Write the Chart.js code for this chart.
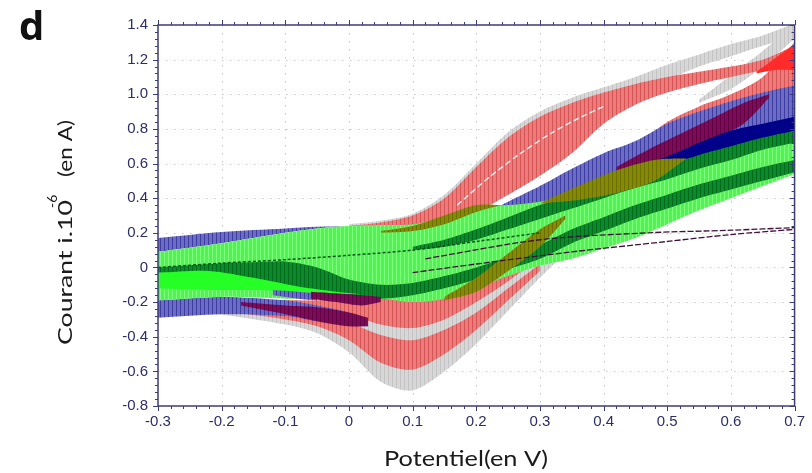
<!DOCTYPE html>
<html>
<head>
<meta charset="utf-8">
<script src="https://cdn.jsdelivr.net/npm/chart.js@4.4.1/dist/chart.umd.min.js"></script>
<style>
  html, body { margin: 0; padding: 0; background: #fff; }
</style>
</head>
<body>
<canvas id="graph" width="812" height="473"></canvas>
<script>
// axis ticks: potential (V) and current (x 1e-6 A)
var xTicks = [-0.3, -0.2, -0.1, 0, 0.1, 0.2, 0.3, 0.4, 0.5, 0.6, 0.7];
var xTickLabels = ['-0.3', '-0.2', '-0.1', '0', '0.1', '0.2', '0.3', '0.4', '0.5', '0.6', '0.7'];
var yTicks = [-0.8, -0.6, -0.4, -0.2, 0, 0.2, 0.4, 0.6, 0.8, 1.0, 1.2, 1.4];
var yTickLabels = ['-0.8', '-0.6', '-0.4', '-0.2', '0', '0.2', '0.4', '0.6', '0.8', '1.0', '1.2', '1.4'];

// forward (anodic) branch of the grey and red sweeps
var upX = [0.0, 0.05, 0.1, 0.15, 0.2, 0.25, 0.3, 0.35, 0.4, 0.45, 0.5, 0.55, 0.6, 0.65, 0.7];
var grayUpTop = [0.25, 0.27, 0.31, 0.42, 0.6, 0.78, 0.9, 0.98, 1.04, 1.1, 1.17, 1.23, 1.29, 1.34, 1.41];
var grayUpBot = [0.2, 0.2, 0.21, 0.25, 0.32, 0.42, 0.53, 0.66, 0.83, 0.98, 1.08, 1.16, 1.22, 1.28, 1.34];
var redUpTop = [0.24, 0.26, 0.3, 0.4, 0.58, 0.75, 0.87, 0.95, 1.01, 1.06, 1.1, 1.13, 1.16, 1.2, 1.28];
var redUpBot = [0.2, 0.2, 0.21, 0.25, 0.32, 0.42, 0.53, 0.66, 0.83, 0.94, 1.01, 1.06, 1.1, 1.14, 1.18];

// return (cathodic) branch of the grey and red sweeps
var grayLowX = [-0.2, -0.1, -0.05, 0, 0.05, 0.1, 0.15, 0.2, 0.25, 0.3, 0.35, 0.4, 0.45];
var grayLowTop = [-0.19, -0.19, -0.19, -0.17, -0.17, -0.18, -0.14, -0.05, 0.08, 0.24, 0.4, 0.55, 0.68];
var grayLowBot = [-0.27, -0.33, -0.38, -0.49, -0.66, -0.71, -0.6, -0.44, -0.25, -0.06, 0.12, 0.3, 0.47];
var redLow1X = [-0.2, -0.1, -0.05, 0, 0.05, 0.1, 0.15, 0.2, 0.25, 0.3, 0.35, 0.4, 0.45, 0.5, 0.55, 0.6, 0.65, 0.7];
var redLow1Top = [-0.19, -0.19, -0.19, -0.17, -0.17, -0.18, -0.14, -0.05, 0.08, 0.24, 0.4, 0.55, 0.7, 0.84, 0.93, 1.0, 1.1, 1.3];
var redLow1Bot = [-0.22, -0.24, -0.25, -0.27, -0.33, -0.35, -0.3, -0.2, -0.08, 0.06, 0.22, 0.38, 0.55, 0.72, 0.8, 0.88, 0.98, 1.05];
var redLow2X = [-0.2, -0.1, -0.05, 0, 0.05, 0.1, 0.15, 0.2, 0.25, 0.3];
var redLow2Top = [-0.23, -0.26, -0.28, -0.32, -0.39, -0.42, -0.36, -0.26, -0.12, 0.02];
var redLow2Bot = [-0.25, -0.3, -0.34, -0.42, -0.55, -0.59, -0.5, -0.36, -0.19, -0.02];
var grayRetX = [0.55, 0.6, 0.65, 0.7];
var grayRetTop = [0.97, 1.11, 1.25, 1.41];
var grayRetBot = [0.95, 1.03, 1.16, 1.32];
var redHotX = [0.64, 0.67, 0.7];
var redHotTop = [1.13, 1.21, 1.29];
var redHotBot = [1.12, 1.14, 1.14];

// blue sweep
var blueRX = [0.15, 0.2, 0.25, 0.3, 0.35, 0.4, 0.45, 0.5, 0.55, 0.6, 0.65, 0.7];
var blueRTop = [0.24, 0.29, 0.38, 0.47, 0.57, 0.66, 0.73, 0.83, 0.9, 0.96, 1.01, 1.05];
var blueRBot = [0.22, 0.22, 0.24, 0.28, 0.33, 0.4, 0.47, 0.54, 0.6, 0.66, 0.72, 0.78];
var purpleRX = [0.42, 0.47, 0.52, 0.57, 0.62, 0.66];
var purpleRTop = [0.58, 0.68, 0.77, 0.86, 0.95, 1.0];
var purpleRBot = [0.56, 0.6, 0.66, 0.74, 0.83, 0.98];
var navyX = [0.45, 0.5, 0.55, 0.6, 0.65, 0.7];
var navyTop = [0.58, 0.64, 0.72, 0.79, 0.83, 0.87];
var navyBot = [0.56, 0.58, 0.63, 0.68, 0.73, 0.79];
var blueL1X = [-0.3, -0.2, -0.1, -0.05, 0.0];
var blueL1Top = [0.17, 0.205, 0.225, 0.235, 0.24];
var blueL1Bot = [0.09, 0.14, 0.2, 0.225, 0.24];
var blueL2X = [-0.3, -0.2, -0.1, -0.05, 0.0, 0.03];
var blueL2Top = [-0.19, -0.17, -0.19, -0.22, -0.26, -0.3];
var blueL2Bot = [-0.29, -0.27, -0.28, -0.31, -0.33, -0.34];

// green sweeps
var greenX = [-0.3, -0.2, -0.1, -0.05, 0, 0.05, 0.1, 0.15, 0.2, 0.25, 0.3, 0.35, 0.4, 0.45, 0.5, 0.55, 0.6, 0.65, 0.7];
var greenTop = [0.09, 0.14, 0.2, 0.225, 0.24, 0.245, 0.25, 0.29, 0.35, 0.36, 0.38, 0.42, 0.47, 0.54, 0.6, 0.64, 0.68, 0.73, 0.79];
var greenBot = [-0.19, -0.17, -0.18, -0.18, -0.19, -0.18, -0.2, -0.18, -0.12, -0.05, 0.01, 0.05, 0.11, 0.17, 0.25, 0.33, 0.4, 0.47, 0.54];
var dg1X = [-0.3, -0.2, -0.15, -0.1, -0.05, 0.0, 0.05, 0.1, 0.15, 0.2, 0.25, 0.3, 0.35, 0.4, 0.45, 0.5, 0.55, 0.6, 0.65, 0.7];
var dg1Top = [0.0, 0.025, 0.03, 0.035, 0.0, -0.07, -0.1, -0.09, -0.05, 0.0, 0.06, 0.13, 0.22, 0.29, 0.36, 0.42, 0.48, 0.53, 0.58, 0.62];
var dg1Bot = [-0.03, -0.04, -0.07, -0.11, -0.14, -0.17, -0.18, -0.16, -0.12, -0.07, -0.01, 0.05, 0.14, 0.21, 0.28, 0.34, 0.4, 0.45, 0.5, 0.55];
var dg2X = [0.1, 0.15, 0.2, 0.25, 0.3, 0.35, 0.4, 0.45, 0.5, 0.55, 0.6, 0.65, 0.7];
var dg2Top = [0.12, 0.16, 0.22, 0.29, 0.36, 0.42, 0.48, 0.54, 0.59, 0.65, 0.7, 0.75, 0.79];
var dg2Bot = [0.1, 0.12, 0.16, 0.22, 0.28, 0.34, 0.4, 0.46, 0.51, 0.57, 0.62, 0.68, 0.72];
var lensX = [-0.3, -0.22, -0.15, -0.08, -0.02, 0.02];
var lensTop = [-0.03, -0.02, -0.06, -0.11, -0.14, -0.155];
var lensBot = [-0.12, -0.13, -0.13, -0.14, -0.15, -0.155];

// places where sweeps cross each other
var olive1X = [0.05, 0.1, 0.15, 0.2, 0.24];
var olive1Top = [0.21, 0.24, 0.3, 0.36, 0.36];
var olive1Bot = [0.2, 0.21, 0.25, 0.32, 0.36];
var olive2X = [0.15, 0.2, 0.25, 0.3, 0.34];
var olive2Top = [-0.17, -0.06, 0.08, 0.22, 0.3];
var olive2Bot = [-0.19, -0.14, -0.02, 0.12, 0.28];
var olive3X = [0.3, 0.36, 0.42, 0.48, 0.53];
var olive3Top = [0.37, 0.47, 0.56, 0.62, 0.63];
var olive3Bot = [0.37, 0.39, 0.43, 0.5, 0.63];
var purpleLX = [-0.17, -0.1, -0.05, 0.0, 0.03];
var purpleLTop = [-0.2, -0.22, -0.23, -0.26, -0.29];
var purpleLBot = [-0.22, -0.27, -0.31, -0.34, -0.34];
var blueMX = [-0.12, -0.08, -0.05];
var blueMTop = [-0.13, -0.14, -0.15];
var blueMBot = [-0.16, -0.18, -0.19];
var purpleMX = [-0.06, -0.02, 0.02, 0.05];
var purpleMTop = [-0.14, -0.15, -0.16, -0.17];
var purpleMBot = [-0.18, -0.2, -0.22, -0.2];

// thin traces
var dgLineX = [-0.3, -0.2, -0.1, 0.0, 0.1, 0.2, 0.3];
var dgLineY = [0.0, 0.025, 0.045, 0.07, 0.1, 0.15, 0.2];
var trace1X = [0.12, 0.3, 0.47, 0.6, 0.7];
var trace1Y = [0.05, 0.16, 0.2, 0.215, 0.23];
var trace2X = [0.1, 0.2, 0.35, 0.5, 0.6, 0.7];
var trace2Y = [-0.03, 0.02, 0.09, 0.15, 0.19, 0.22];
var gapLineX = [0.17, 0.22, 0.27, 0.32, 0.36, 0.4];
var gapLineY = [0.36, 0.52, 0.66, 0.78, 0.86, 0.93];

// vertical hatching like the sampled sweeps
function stripes(base, line) {
    var c = document.createElement('canvas');
    c.width = 4; c.height = 4;
    var g = c.getContext('2d');
    g.fillStyle = base;
    g.fillRect(0, 0, 4, 4);
    g.fillStyle = line;
    g.fillRect(0, 0, 1, 4);
    return g.createPattern(c, 'repeat');
}

function pts(xs, ys) {
    return xs.map(function(x, i) { return {x: x, y: ys[i]}; });
}

var gray = stripes('#d7d7d7', '#c3c3c3');
var red = stripes('#ec7c7c', '#d65454');
var blue = stripes('#6c6cc2', '#3c3ca2');
var green = stripes('#56ef56', '#7cff7c');
var darkGreen = stripes('#0b8a2c', '#036a1c');
var olive = stripes('#858a06', '#6c7000');
var purple = stripes('#7d0c58', '#620044');

// drawn in this order, last on top
var bands = [
    {x: upX, top: grayUpTop, bot: grayUpBot, bg: gray},
    {x: grayLowX, top: grayLowTop, bot: grayLowBot, bg: gray},
    {x: grayRetX, top: grayRetTop, bot: grayRetBot, bg: gray},
    {x: upX, top: redUpTop, bot: redUpBot, bg: red},
    {x: redLow1X, top: redLow1Top, bot: redLow1Bot, bg: red},
    {x: redLow2X, top: redLow2Top, bot: redLow2Bot, bg: red},
    {x: redHotX, top: redHotTop, bot: redHotBot, bg: '#ff2a2a'},
    {x: blueRX, top: blueRTop, bot: blueRBot, bg: blue},
    {x: purpleRX, top: purpleRTop, bot: purpleRBot, bg: purple},
    {x: navyX, top: navyTop, bot: navyBot, bg: '#000088'},
    {x: blueL1X, top: blueL1Top, bot: blueL1Bot, bg: blue},
    {x: blueL2X, top: blueL2Top, bot: blueL2Bot, bg: blue},
    {x: greenX, top: greenTop, bot: greenBot, bg: green},
    {x: dg1X, top: dg1Top, bot: dg1Bot, bg: darkGreen},
    {x: dg2X, top: dg2Top, bot: dg2Bot, bg: darkGreen},
    {x: lensX, top: lensTop, bot: lensBot, bg: '#26ff26'},
    {x: olive1X, top: olive1Top, bot: olive1Bot, bg: olive},
    {x: olive2X, top: olive2Top, bot: olive2Bot, bg: olive},
    {x: olive3X, top: olive3Top, bot: olive3Bot, bg: olive},
    {x: purpleLX, top: purpleLTop, bot: purpleLBot, bg: purple},
    {x: blueMX, top: blueMTop, bot: blueMBot, bg: blue},
    {x: purpleMX, top: purpleMTop, bot: purpleMBot, bg: purple}
];

var datasets = [];
bands.forEach(function(b, k) {
    var order = bands.length - k + 10;
    datasets.push({data: pts(b.x, b.top), borderWidth: 0, pointRadius: 0, fill: false, tension: 0.3, order: order});
    datasets.push({data: pts(b.x, b.bot), borderWidth: 0, pointRadius: 0, fill: '-1', tension: 0.3,
        backgroundColor: b.bg, order: order});
});

// thin traces on top of everything
datasets.push({data: pts(dgLineX, dgLineY), borderColor: '#0a5a1a', borderWidth: 1.5, borderDash: [3, 2], pointRadius: 0, fill: false, tension: 0.3, order: 1});
datasets.push({data: pts(trace1X, trace1Y), borderColor: '#40103a', borderWidth: 1.3, borderDash: [6, 2], pointRadius: 0, fill: false, tension: 0.3, order: 1});
datasets.push({data: pts(trace2X, trace2Y), borderColor: '#40103a', borderWidth: 1.3, borderDash: [6, 2], pointRadius: 0, fill: false, tension: 0.3, order: 1});
datasets.push({data: pts(gapLineX, gapLineY), borderColor: 'rgba(255,255,255,0.85)', borderWidth: 1.5, borderDash: [6, 3], pointRadius: 0, fill: false, tension: 0.3, order: 1});

var axisColor = '#2e2e66';

// draws with the scales: dotted grid, frame, minor ticks, titles
var decor = {
    id: 'decor',
    beforeDatasetsDraw: function(chart) {
        var ctx = chart.ctx, a = chart.chartArea;
        var xs = chart.scales.x, ys = chart.scales.y;
        ctx.save();
        ctx.strokeStyle = '#c6c6ce';
        ctx.lineWidth = 1;
        ctx.setLineDash([1.5, 6.5]);
        xTicks.slice(1, -1).forEach(function(v) {
            var px = Math.round(xs.getPixelForValue(v)) + 0.5;
            ctx.beginPath(); ctx.moveTo(px, a.top); ctx.lineTo(px, a.bottom); ctx.stroke();
        });
        yTicks.slice(1, -1).forEach(function(v) {
            var py = Math.round(ys.getPixelForValue(v)) + 0.5;
            ctx.beginPath(); ctx.moveTo(a.left, py); ctx.lineTo(a.right, py); ctx.stroke();
        });
        ctx.restore();
    },
    afterDraw: function(chart) {
        var ctx = chart.ctx, a = chart.chartArea;
        var xs = chart.scales.x, ys = chart.scales.y;
        ctx.save();
        ctx.strokeStyle = '#3c3c7a';
        ctx.lineWidth = 1.5;
        ctx.strokeRect(a.left, a.top, a.right - a.left, a.bottom - a.top);
        ctx.lineWidth = 1;
        ctx.beginPath();
        for (var i = 0; i <= 50; i++) {
            var len = i % 5 === 0 ? 5 : 3;
            var px = Math.round(xs.getPixelForValue(-0.3 + i * 0.02)) + 0.5;
            ctx.moveTo(px, a.bottom); ctx.lineTo(px, a.bottom + len);
            ctx.moveTo(px, a.top); ctx.lineTo(px, a.top - len);
        }
        for (var j = 0; j <= 55; j++) {
            var l2 = j % 5 === 0 ? 5 : 3;
            var py = Math.round(ys.getPixelForValue(-0.8 + j * 0.04)) + 0.5;
            ctx.moveTo(a.left, py); ctx.lineTo(a.left - l2, py);
            ctx.moveTo(a.right, py); ctx.lineTo(a.right - l2, py);
        }
        ctx.stroke();

        // axis titles
        ctx.fillStyle = '#1a1a1a';
        ctx.textBaseline = 'alphabetic';
        ctx.font = '21px Lato';
        var t = 'Potentiel(en V)';
        var w = ctx.measureText(t).width;
        ctx.save();
        ctx.translate(466, 466);
        ctx.scale(164 / w, 1);
        ctx.textAlign = 'center';
        ctx.fillText(t, 0, 0);
        ctx.restore();

        ctx.save();
        ctx.translate(72, 345);
        ctx.rotate(-Math.PI / 2);
        ctx.textAlign = 'left';
        ctx.font = '20px Lato';
        var t1 = 'Courant i.10';
        var w1 = ctx.measureText(t1).width;
        ctx.save(); ctx.scale(145 / w1, 1); ctx.fillText(t1, 0, 0); ctx.restore();
        ctx.font = '14px Lato';
        ctx.fillText('-6', 137, -15);
        ctx.font = '20px Lato';
        var t2 = '(en A)';
        var w2 = ctx.measureText(t2).width;
        ctx.save(); ctx.translate(168, 0); ctx.scale(57 / w2, 1); ctx.fillText(t2, 0, 0); ctx.restore();
        ctx.restore();

        // panel letter
        ctx.font = 'bold 40px "Open Sans"';
        ctx.textAlign = 'left';
        ctx.fillStyle = '#111';
        ctx.fillText('d', 19, 40);
        ctx.restore();
    }
};

var tickFont = {family: '"Liberation Sans", Arial, sans-serif', size: 15};

var myChart = new Chart(document.getElementById('graph').getContext('2d'), {
    type: 'line',
    data: {datasets: datasets},
    options: {
        responsive: false,
        animation: false,
        layout: {padding: {left: 0, right: 9, top: 25, bottom: 0}},
        plugins: {legend: {display: false}, tooltip: {enabled: false}},
        scales: {
            x: {
                type: 'linear', min: -0.3, max: 0.7,
                grid: {display: false, drawTicks: false},
                border: {display: false},
                afterBuildTicks: function(s) { s.ticks = xTicks.map(function(v) { return {value: v}; }); },
                afterFit: function(s) { s.height = 67; },
                ticks: {
                    padding: 7, color: axisColor, font: tickFont, maxRotation: 0, autoSkip: false,
                    callback: function(v, i) { return xTickLabels[i]; }
                }
            },
            y: {
                type: 'linear', min: -0.8, max: 1.4,
                grid: {display: false, drawTicks: false},
                border: {display: false},
                afterBuildTicks: function(s) { s.ticks = yTicks.map(function(v) { return {value: v}; }); },
                afterFit: function(s) { s.width = 158; },
                ticks: {
                    padding: 10, color: axisColor, font: tickFont, autoSkip: false,
                    callback: function(v, i) { return yTickLabels[i]; }
                }
            }
        }
    },
    plugins: [decor]
});
</script>
</body>
</html>
